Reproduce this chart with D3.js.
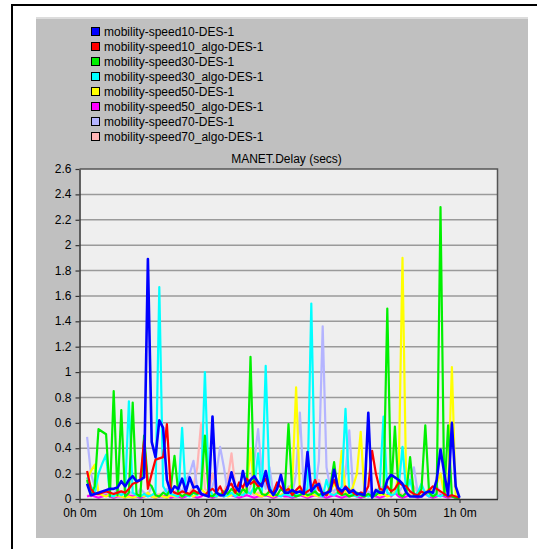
<!DOCTYPE html>
<html>
<head>
<meta charset="utf-8">
<script src="https://cdn.jsdelivr.net/npm/d3@7/dist/d3.min.js"></script>
<style>
  html, body { margin: 0; padding: 0; background: #ffffff; }
  svg { display: block; }
  text { font-family: "Liberation Sans", Arial, sans-serif; font-size: 12px; fill: #000; }
</style>
</head>
<body>
<svg id="chart" width="537" height="549"></svg>
<script>
// ---------------- data ----------------
const seriesNames = [
  "mobility-speed10-DES-1",
  "mobility-speed10_algo-DES-1",
  "mobility-speed30-DES-1",
  "mobility-speed30_algo-DES-1",
  "mobility-speed50-DES-1",
  "mobility-speed50_algo-DES-1",
  "mobility-speed70-DES-1",
  "mobility-speed70_algo-DES-1"
];
const seriesColors = ["#0000ff", "#ff0000", "#00f000", "#00ffff", "#ffff00", "#ff00ff", "#b4b4ff", "#ffb4b4"];

// samples every 0.6 min starting at 1.2 min (simulation time, minutes)
const sampleStartMin = 1.2;
const sampleStepMin = 0.6;

const speed10 = [
  0.12,0.03,0.04,0.05,0.06,0.07,0.08,0.08,0.09,0.14,
  0.10,0.15,0.18,0.14,0.15,0.17,1.89,0.45,0.33,0.62,
  0.56,0.15,0.05,0.10,0.08,0.16,0.06,0.17,0.09,0.10,
  0.04,0.03,0.02,0.65,0.05,0.03,0.03,0.08,0.21,0.10,
  0.06,0.22,0.10,0.15,0.18,0.13,0.10,0.22,0.08,0.03,
  0.08,0.19,0.05,0.05,0.07,0.05,0.06,0.04,0.37,0.06,
  0.10,0.12,0.03,0.05,0.06,0.23,0.09,0.06,0.09,0.05,
  0.07,0.04,0.04,0.03,0.68,0.01,0.07,0.05,0.05,0.15,
  0.19,0.17,0.15,0.12,0.05,0.02,0.02,0.02,0.02,0.05,
  0.06,0.05,0.15,0.39,0.20,0.03,0.60,0.10,0.01
];
const speed10Algo = [
  0.22,0.08,0.04,0.04,0.05,0.06,0.05,0.04,0.05,0.06,
  0.05,0.08,0.12,0.13,0.15,0.46,0.08,0.20,0.31,0.32,
  0.33,0.59,0.08,0.05,0.04,0.06,0.05,0.04,0.07,0.05,
  0.04,0.03,0.06,0.08,0.05,0.10,0.03,0.10,0.12,0.05,
  0.13,0.09,0.16,0.12,0.14,0.10,0.12,0.16,0.06,0.05,
  0.13,0.09,0.06,0.08,0.03,0.07,0.10,0.04,0.06,0.08,
  0.15,0.07,0.05,0.03,0.08,0.15,0.07,0.04,0.10,0.07,
  0.05,0.03,0.05,0.04,0.10,0.38,0.20,0.08,0.07,0.10,
  0.06,0.08,0.13,0.11,0.10,0.06,0.04,0.03,0.06,0.04,
  0.07,0.10,0.08,0.06,0.04,0.02,0.03,0.02,0.01
];
const speed30 = [
  0.15,0.03,0.10,0.55,0.53,0.51,0.02,0.85,0.03,0.70,
  0.02,0.05,0.76,0.04,0.02,0.50,0.13,0.10,0.03,0.02,
  0.05,0.03,0.08,0.34,0.05,0.02,0.04,0.03,0.05,0.04,
  0.08,0.50,0.03,0.02,0.05,0.03,0.06,0.04,0.08,0.05,
  0.03,0.08,0.05,1.12,0.05,0.10,0.04,0.03,0.06,0.04,
  0.03,0.08,0.05,0.59,0.04,0.02,0.03,0.05,0.03,0.04,
  0.06,0.03,0.05,0.03,0.10,0.29,0.05,0.03,0.04,0.02,
  0.03,0.05,0.03,0.02,0.04,0.02,0.03,0.06,0.04,1.50,
  0.05,0.57,0.04,0.02,0.05,0.33,0.03,0.02,0.08,0.58,
  0.05,0.02,0.04,2.30,0.03,0.58,0.02,0.01,0.00
];
const speed30Algo = [
  0.17,0.10,0.05,0.20,0.28,0.35,0.03,0.02,0.05,0.03,
  0.05,0.77,0.05,0.03,0.02,0.04,0.02,0.03,0.05,1.67,
  0.10,0.05,0.04,0.03,0.02,0.56,0.03,0.02,0.05,0.03,
  0.08,1.00,0.10,0.03,0.02,0.04,0.02,0.03,0.05,0.02,
  0.04,0.03,0.06,0.04,0.10,0.36,0.05,1.05,0.10,0.04,
  0.03,0.02,0.04,0.03,0.02,0.04,0.03,0.05,0.08,1.54,
  0.05,0.03,0.02,0.15,0.04,0.03,0.05,0.10,0.71,0.05,
  0.03,0.02,0.04,0.03,0.02,0.04,0.03,0.10,0.65,0.05,
  0.03,0.04,0.10,0.41,0.05,0.15,0.03,0.05,0.12,0.04,
  0.02,0.05,0.03,0.02,0.04,0.02,0.03,0.01,0.00
];
const speed50 = [
  0.15,0.22,0.27,0.05,0.03,0.02,0.04,0.02,0.03,0.02,
  0.01,0.02,0.01,0.02,0.03,0.02,0.05,0.02,0.01,0.03,
  0.02,0.01,0.03,0.02,0.04,0.02,0.05,0.03,0.02,0.04,
  0.08,0.05,0.03,0.04,0.02,0.03,0.05,0.02,0.03,0.06,
  0.04,0.03,0.10,0.40,0.05,0.03,0.02,0.04,0.03,0.02,
  0.04,0.03,0.05,0.08,0.12,0.88,0.05,0.03,0.02,0.04,
  0.03,0.02,0.05,0.03,0.06,0.12,0.08,0.38,0.05,0.03,
  0.10,0.20,0.53,0.04,0.03,0.02,0.05,0.03,0.04,0.02,
  0.03,0.05,0.20,1.90,0.05,0.03,0.02,0.04,0.03,0.05,
  0.08,0.06,0.12,0.20,0.04,0.10,1.04,0.02,0.00
];
const speed50Algo = [
  0.02,0.03,0.02,0.01,0.02,0.03,0.02,0.01,0.02,0.02,
  0.01,0.03,0.02,0.02,0.01,0.02,0.03,0.02,0.01,0.02,
  0.02,0.03,0.01,0.02,0.02,0.01,0.02,0.03,0.02,0.01,
  0.02,0.04,0.02,0.01,0.02,0.03,0.02,0.05,0.03,0.02,
  0.01,0.02,0.03,0.02,0.01,0.02,0.02,0.03,0.02,0.01,
  0.02,0.03,0.02,0.02,0.01,0.02,0.03,0.02,0.01,0.02,
  0.03,0.02,0.02,0.01,0.02,0.03,0.02,0.01,0.02,0.02,
  0.03,0.02,0.01,0.02,0.03,0.02,0.02,0.01,0.02,0.03,
  0.02,0.05,0.02,0.01,0.02,0.03,0.02,0.01,0.02,0.04,
  0.02,0.01,0.02,0.03,0.02,0.01,0.02,0.01,0.00
];
const speed70 = [
  0.49,0.20,0.10,0.05,0.03,0.05,0.02,0.04,0.08,0.05,
  0.03,0.06,0.04,0.03,0.08,0.05,0.03,0.10,0.04,0.02,
  0.05,0.08,0.04,0.03,0.10,0.05,0.15,0.20,0.30,0.08,
  0.05,0.04,0.03,0.10,0.20,0.41,0.25,0.05,0.04,0.03,
  0.06,0.05,0.04,0.10,0.30,0.55,0.20,0.08,0.25,0.05,
  0.04,0.03,0.05,0.10,0.04,0.20,0.68,0.10,0.05,0.04,
  0.06,0.30,1.36,0.25,0.08,0.06,0.10,0.05,0.20,0.54,
  0.08,0.04,0.05,0.03,0.06,0.04,0.03,0.08,0.10,0.05,
  0.04,0.06,0.05,0.10,0.08,0.15,0.25,0.05,0.04,0.06,
  0.05,0.03,0.10,0.05,0.04,0.03,0.02,0.01,0.00
];
const speed70Algo = [
  0.03,0.02,0.04,0.03,0.02,0.05,0.03,0.02,0.04,0.03,
  0.05,0.02,0.03,0.04,0.02,0.03,0.05,0.02,0.03,0.04,
  0.02,0.03,0.05,0.03,0.02,0.04,0.03,0.05,0.10,0.25,
  0.60,0.08,0.05,0.20,0.06,0.04,0.05,0.15,0.36,0.10,
  0.05,0.03,0.04,0.06,0.03,0.05,0.04,0.03,0.05,0.06,
  0.04,0.03,0.05,0.04,0.03,0.06,0.05,0.10,0.04,0.03,
  0.05,0.15,0.06,0.04,0.03,0.05,0.04,0.06,0.03,0.05,
  0.04,0.03,0.05,0.06,0.04,0.03,0.08,0.05,0.04,0.03,
  0.05,0.04,0.06,0.03,0.05,0.04,0.10,0.05,0.03,0.04,
  0.05,0.03,0.06,0.04,0.05,0.03,0.02,0.01,0.00
];
const seriesValues = [speed10, speed10Algo, speed30, speed30Algo, speed50, speed50Algo, speed70, speed70Algo];

const yTicks = [0, 0.2, 0.4, 0.6, 0.8, 1, 1.2, 1.4, 1.6, 1.8, 2, 2.2, 2.4, 2.6];
const xTickMinutes = [0, 10, 20, 30, 40, 50, 60];
const xTickLabels = ["0h 0m", "0h 10m", "0h 20m", "0h 30m", "0h 40m", "0h 50m", "1h 0m"];
const chartTitle = "MANET.Delay (secs)";

// ---------------- layout ----------------
const svg = d3.select("#chart");
const plot = { left: 79.5, right: 497.5, top: 169, bottom: 499 };

// outer frame
svg.append("line").attr("x1", 12).attr("y1", 5).attr("x2", 537).attr("y2", 5)
  .attr("stroke", "#000").attr("stroke-width", 2);
svg.append("line").attr("x1", 12).attr("y1", 4).attr("x2", 12).attr("y2", 549)
  .attr("stroke", "#000").attr("stroke-width", 2);

// grey panel
svg.append("rect").attr("x", 36).attr("y", 17).attr("width", 492).attr("height", 521).attr("fill", "#c0c0c0");
svg.append("rect").attr("x", 36).attr("y", 17).attr("width", 492).attr("height", 2).attr("fill", "#dcdcdc");

// plot background
svg.append("rect").attr("x", plot.left).attr("y", plot.top)
  .attr("width", plot.right - plot.left).attr("height", plot.bottom - plot.top)
  .attr("fill", "#efefef");

const x = d3.scaleLinear().domain([0, 66]).range([plot.left, plot.right]);
const y = d3.scaleLinear().domain([0, 2.6]).range([plot.bottom, plot.top]);

// grid
svg.append("g").selectAll("line").data(yTicks.filter(v => v > 0 && v < 2.6)).join("line")
  .attr("x1", plot.left).attr("x2", plot.right)
  .attr("y1", d => y(d)).attr("y2", d => y(d))
  .attr("stroke", "#9a9a9a").attr("stroke-width", 1.5);

// plot frame (top/right)
svg.append("path")
  .attr("d", `M${plot.left},${plot.top}H${plot.right}V${plot.bottom}`)
  .attr("fill", "none").attr("stroke", "#555").attr("stroke-width", 1.5);

// title
svg.append("text").attr("x", (plot.left + plot.right) / 2 - 2).attr("y", 163)
  .attr("text-anchor", "middle").text(chartTitle);

// series lines (draw last series first so speed10 ends on top)
const line = d3.line()
  .x((d, i) => x(sampleStartMin + sampleStepMin * i))
  .y(d => y(d));
const order = d3.range(seriesValues.length).reverse();
svg.append("g").selectAll("path").data(order).join("path")
  .attr("d", k => line(seriesValues[k]))
  .attr("fill", "none")
  .attr("stroke", k => seriesColors[k])
  .attr("stroke-width", k => k === 0 ? 2.6 : 2.2)
  .attr("stroke-linejoin", "round");

// axes
const yAxis = d3.axisLeft(y).tickValues(yTicks).tickSize(4).tickPadding(4).tickSizeOuter(0)
  .tickFormat(d => String(+d.toFixed(1)));
const gy = svg.append("g").attr("transform", `translate(${plot.left},0)`).call(yAxis);
const xAxis = d3.axisBottom(x).tickValues(xTickMinutes).tickSize(4).tickPadding(5).tickSizeOuter(0)
  .tickFormat((d, i) => xTickLabels[i]);
const gx = svg.append("g").attr("transform", `translate(0,${plot.bottom})`).call(xAxis);
[gx, gy].forEach(g => {
  g.select(".domain").attr("stroke", "#333").attr("stroke-width", 1.5);
  g.selectAll(".tick line").attr("stroke", "#333").attr("stroke-width", 1.2);
  g.selectAll(".tick text").attr("fill", "#000")
    .style("font-family", '"Liberation Sans", Arial, sans-serif').style("font-size", "12px");
});
gy.selectAll(".tick text").attr("dy", "0.3em");

// legend
const legend = svg.append("g").selectAll("g").data(seriesNames).join("g")
  .attr("transform", (d, i) => `translate(91,${27 + i * 15})`);
legend.append("rect").attr("x", 0.5).attr("y", 0.5).attr("width", 8).attr("height", 8)
  .attr("fill", (d, i) => seriesColors[i]).attr("stroke", "#000").attr("stroke-width", 1);
legend.append("text").attr("x", 13).attr("y", 9).text(d => d);
</script>
</body>
</html>
